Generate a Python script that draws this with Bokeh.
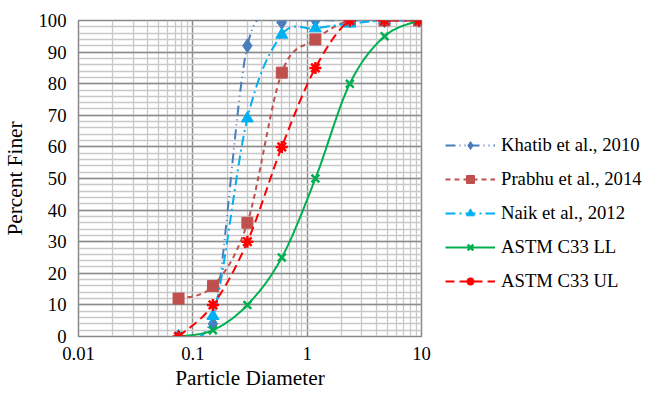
import numpy as np
from bokeh.plotting import figure
from bokeh.models import (FixedTicker, CustomJSTickFormatter, Legend, LegendItem, Range1d)
from bokeh.embed import file_html
from bokeh.resources import INLINE

# ---- data ----
sieve = [0.075, 0.15, 0.3, 0.6, 1.18, 2.36, 4.75, 9.5]
khatib = [0, 4, 92, 99.4, 100, 100, 100, 100]
prabhu = [12, 16, 36, 83.5, 94, 100, 100, 100]
naik = [0, 6.5, 69, 95.5, 97.5, 99, 100, 100]
astm_ll = [0, 2, 10, 25, 50, 80, 95, 100]
astm_ul = [0, 10, 30, 60, 85, 100, 100, 100]

labels = ["Khatib et al., 2010", "Prabhu et al., 2014", "Naik et al., 2012",
          "ASTM C33 LL", "ASTM C33 UL"]
x_ticks = [0.01, 0.1, 1, 10]
y_ticks = list(range(0, 101, 10))

FONT = "Liberation Serif"
PX_DEC = 114.3   # px per decade (for smoothing aspect)
PX_UNIT = 3.16   # px per percent


def smooth(xs, ys, n=24):
    """Excel-like smoothed line (Catmull-Rom Bezier) in screen-like space."""
    u = np.log10(np.asarray(xs, float)) * PX_DEC
    v = np.asarray(ys, float) * PX_UNIT
    pts = np.column_stack([u, v])
    out = [pts[0]]
    m = len(pts)
    for i in range(m - 1):
        p0 = pts[i - 1] if i > 0 else pts[i]
        p1 = pts[i]
        p2 = pts[i + 1]
        p3 = pts[i + 2] if i + 2 < m else pts[i + 1]
        c1 = p1 + (p2 - p0) / 6.0
        c2 = p2 - (p3 - p1) / 6.0
        t = np.linspace(0, 1, n)[1:, None]
        b = ((1 - t) ** 3) * p1 + 3 * ((1 - t) ** 2) * t * c1 + 3 * (1 - t) * t ** 2 * c2 + t ** 3 * p2
        out.extend(b)
    out = np.array(out)
    return list(10 ** (out[:, 0] / PX_DEC)), list(out[:, 1] / PX_UNIT)


p = figure(frame_width=343, frame_height=316, x_axis_type="log",
           x_range=Range1d(0.01, 10), y_range=Range1d(0, 100),
           output_backend="svg", toolbar_location=None,
           min_border_left=70, min_border_right=0, min_border_top=20, min_border_bottom=0)
p.title.visible = False

p.outline_line_color = "#888888"
p.outline_line_width = 1.5

# axes
for ax in (p.xaxis[0], p.yaxis[0]):
    ax.axis_line_color = "#888888"
    ax.major_tick_line_color = None
    ax.minor_tick_line_color = None
    ax.major_tick_out = 0
    ax.major_tick_in = 0
    ax.major_label_text_font = FONT
    ax.major_label_text_font_size = "18.7px"
    ax.major_label_text_color = "black"
    ax.axis_label_text_font = FONT
    ax.axis_label_text_font_size = "21.3px"
    ax.axis_label_text_font_style = "normal"
    ax.axis_label_text_color = "black"

minor_x = [m * 10.0 ** k for k in (-2, -1, 0) for m in range(2, 10)]
xt = FixedTicker(ticks=x_ticks, minor_ticks=minor_x)
yt = FixedTicker(ticks=y_ticks, minor_ticks=list(range(0, 101, 2)))
p.xaxis.ticker = xt
p.xgrid.ticker = xt
p.yaxis.ticker = yt
p.ygrid.ticker = yt
p.xaxis.formatter = CustomJSTickFormatter(code="return Number(tick.toPrecision(6)).toString();")
p.xaxis.axis_label = "Particle Diameter"
p.yaxis.axis_label = "Percent Finer"
p.xaxis.major_label_standoff = 6
p.xaxis.axis_label_standoff = 3
p.yaxis.major_label_standoff = 8
p.yaxis.axis_label_standoff = 8

for g in (p.xgrid, p.ygrid):
    g.grid_line_color = "#8C8C8C"
    g.grid_line_width = 1.5
    g.minor_grid_line_color = "#C8C8C8"
    g.minor_grid_line_width = 1.3

series = [
    (khatib, "#4A7EBB", "10 4 1 4 1 4", "diamond", 14, 2.0),
    (prabhu, "#C0504D", "5 4", "square", 11, 2.0),
    (naik, "#00B0F0", "10 4 2 4", "triangle", 12, 2.0),
    (astm_ll, "#00B050", "solid", "x", 11, 2.0),
    (astm_ul, "#FF0000", "9 5", "asterisk", 12, 2.0),
]

items = []
for (ys, col, dash, mk, sz, lw), lab in zip(series, labels):
    sx, sy = smooth(sieve, ys)
    lr = p.line(sx, sy, line_color=col, line_width=lw, line_dash=dash)
    sr = p.scatter(sieve, ys, marker=mk, size=sz, fill_color=col, line_color=col,
                   line_width=2.5 if mk in ("x", "asterisk") else 1)
    items.append(LegendItem(label=lab, renderers=[lr, sr]))

legend = Legend(items=items, location=(24, 44), glyph_width=50, glyph_height=20,
                label_height=20, spacing=12, padding=0, margin=0, label_standoff=6,
                border_line_color=None, background_fill_alpha=0,
                label_text_font=FONT, label_text_font_size="18.7px", label_text_color="black")
p.add_layout(legend, "right")

open("out.html", "w").write(file_html(p, INLINE))
